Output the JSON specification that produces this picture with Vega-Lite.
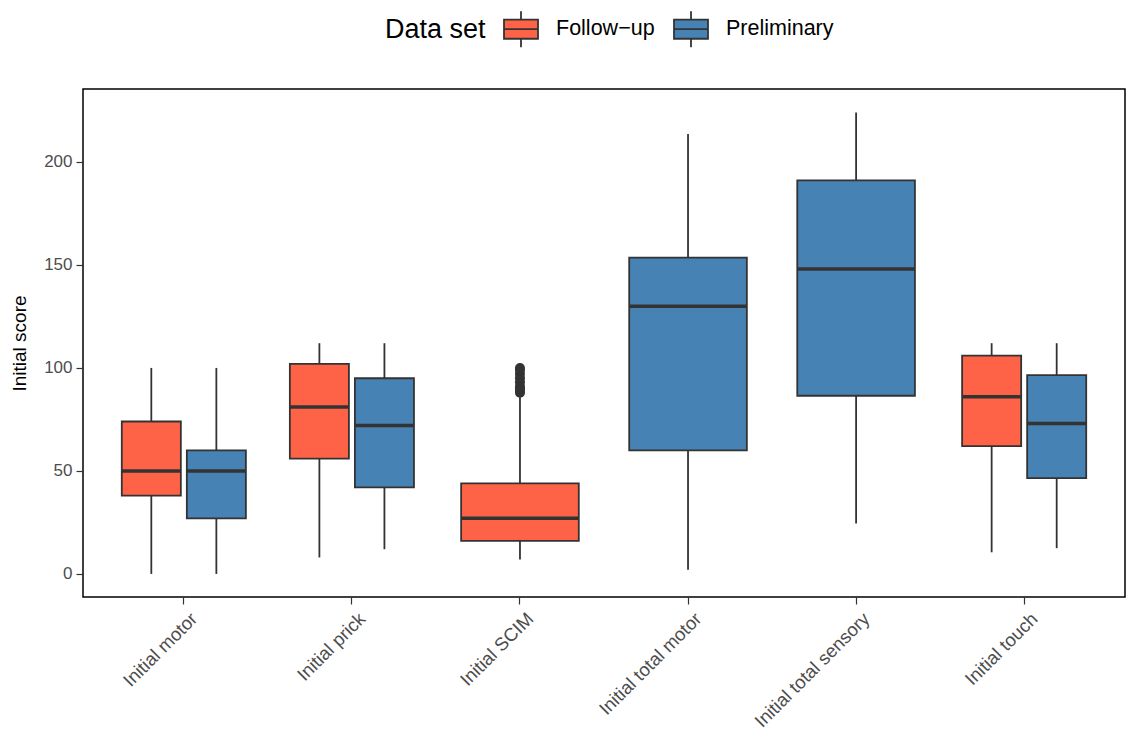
{
  "$schema": "https://vega.github.io/schema/vega-lite/v6.json",
  "width": 1042,
  "height": 508,
  "autosize": {"type": "none"},
  "padding": {"left": 83, "top": 89, "right": 2, "bottom": 138},
  "background": "white",
  "datasets": {
    "boxes": [
      {"category": "Initial motor", "set": "Follow-up", "lo": 0, "q1": 38, "med": 50, "q3": 74, "hi": 100},
      {"category": "Initial motor", "set": "Preliminary", "lo": 0, "q1": 27, "med": 50, "q3": 60, "hi": 100},
      {"category": "Initial prick", "set": "Follow-up", "lo": 8, "q1": 56, "med": 81, "q3": 102, "hi": 112},
      {"category": "Initial prick", "set": "Preliminary", "lo": 12, "q1": 42, "med": 72, "q3": 95, "hi": 112},
      {"category": "Initial SCIM", "set": "Follow-up", "lo": 7, "q1": 16, "med": 27, "q3": 44, "hi": 86},
      {"category": "Initial total motor", "set": "Preliminary", "lo": 2, "q1": 60, "med": 130, "q3": 153.5, "hi": 213.5},
      {"category": "Initial total sensory", "set": "Preliminary", "lo": 24.5, "q1": 86.5, "med": 148, "q3": 191, "hi": 224},
      {"category": "Initial touch", "set": "Follow-up", "lo": 10.5, "q1": 62, "med": 86, "q3": 106, "hi": 112},
      {"category": "Initial touch", "set": "Preliminary", "lo": 12.5, "q1": 46.5, "med": 73, "q3": 96.5, "hi": 112}
    ],
    "outliers": [
      {"category": "Initial SCIM", "set": "Follow-up", "value": 88},
      {"category": "Initial SCIM", "set": "Follow-up", "value": 89},
      {"category": "Initial SCIM", "set": "Follow-up", "value": 90},
      {"category": "Initial SCIM", "set": "Follow-up", "value": 91},
      {"category": "Initial SCIM", "set": "Follow-up", "value": 93},
      {"category": "Initial SCIM", "set": "Follow-up", "value": 95},
      {"category": "Initial SCIM", "set": "Follow-up", "value": 97},
      {"category": "Initial SCIM", "set": "Follow-up", "value": 99},
      {"category": "Initial SCIM", "set": "Follow-up", "value": 100}
    ]
  },
  "config": {
    "font": "Liberation Sans",
    "view": {"stroke": "black", "strokeWidth": 1.5},
    "axis": {
      "grid": false,
      "domain": false,
      "tickColor": "#333333",
      "tickSize": 7,
      "tickWidth": 1.2,
      "labelColor": "#4D4D4D",
      "labelFontSize": 17,
      "titleColor": "black",
      "titleFontSize": 19,
      "titleFontWeight": "normal"
    },
    "legend": {
      "orient": "none",
      "legendX": 302,
      "legendY": -79,
      "direction": "horizontal",
      "titleOrient": "left",
      "titleFontSize": 27,
      "titleFontWeight": "normal",
      "titleColor": "black",
      "titleBaseline": "middle",
      "titlePadding": 16,
      "labelFontSize": 21.5,
      "labelColor": "black",
      "labelOffset": 16,
      "columnPadding": 15,
      "symbolType": "M-0.944,-0.53H0.944V0.53H-0.944Z M-0.944,0H0.944 M0,-0.53V-1 M0,0.53V1",
      "symbolSize": 1296,
      "symbolStrokeColor": "#333333",
      "symbolStrokeWidth": 1.8,
      "symbolOpacity": 1
    }
  },
  "encoding": {
    "x": {
      "field": "category",
      "type": "nominal",
      "sort": ["Initial motor", "Initial prick", "Initial SCIM", "Initial total motor", "Initial total sensory", "Initial touch"],
      "scale": {"paddingInner": 0, "paddingOuter": 0.1},
      "axis": {"title": null, "labelAngle": -45, "labelAlign": "right", "labelBaseline": "top", "labelPadding": 5, "labelOffset": 4, "labelFontSize": 18.5}
    }
  },
  "layer": [
    {
      "data": {"name": "boxes"},
      "transform": [{"filter": "datum.category != 'Initial SCIM' && datum.category != 'Initial total motor' && datum.category != 'Initial total sensory'"}],
      "encoding": {
        "xOffset": {"field": "set", "type": "nominal", "scale": {"domain": ["Follow-up", "Preliminary"], "paddingInner": 0.092, "paddingOuter": 0.338}}
      },
      "layer": [
        {
          "mark": {"type": "rule", "color": "#333333", "strokeWidth": 1.8},
          "encoding": {
            "y": {"field": "lo", "type": "quantitative", "scale": {"domain": [-11.2, 235.4], "nice": false, "zero": false}, "axis": {"title": "Initial score", "values": [0, 50, 100, 150, 200], "labelPadding": 4, "titlePadding": 14}},
            "y2": {"field": "hi"}
          }
        },
        {
          "mark": {"type": "bar", "stroke": "#333333", "strokeWidth": 1.8, "opacity": 1},
          "encoding": {
            "y": {"field": "q1", "type": "quantitative", "scale": {"domain": [-11.2, 235.4], "nice": false, "zero": false}},
            "y2": {"field": "q3"},
            "color": {"field": "set", "type": "nominal", "scale": {"domain": ["Follow-up", "Preliminary"], "range": ["#FF6347", "#4682B4"]}, "legend": {"title": "Data set", "labelExpr": "replace(datum.label, '-', '−')"}}
          }
        },
        {
          "mark": {"type": "tick", "color": "#333333", "thickness": 3.5, "size": 59, "opacity": 1},
          "encoding": {
            "y": {"field": "med", "type": "quantitative", "scale": {"domain": [-11.2, 235.4], "nice": false, "zero": false}}
          }
        }
      ]
    },
    {
      "data": {"name": "boxes"},
      "transform": [{"filter": "datum.category == 'Initial SCIM' || datum.category == 'Initial total motor' || datum.category == 'Initial total sensory'"}],
      "layer": [
        {
          "mark": {"type": "rule", "color": "#333333", "strokeWidth": 1.8},
          "encoding": {
            "y": {"field": "lo", "type": "quantitative", "scale": {"domain": [-11.2, 235.4], "nice": false, "zero": false}},
            "y2": {"field": "hi"}
          }
        },
        {
          "mark": {"type": "bar", "stroke": "#333333", "strokeWidth": 1.8, "opacity": 1, "width": {"band": 0.7}},
          "encoding": {
            "y": {"field": "q1", "type": "quantitative", "scale": {"domain": [-11.2, 235.4], "nice": false, "zero": false}},
            "y2": {"field": "q3"},
            "color": {"field": "set", "type": "nominal", "scale": {"domain": ["Follow-up", "Preliminary"], "range": ["#FF6347", "#4682B4"]}, "legend": {"title": "Data set", "labelExpr": "replace(datum.label, '-', '−')"}}
          }
        },
        {
          "mark": {"type": "tick", "color": "#333333", "thickness": 3.5, "size": 117, "opacity": 1},
          "encoding": {
            "y": {"field": "med", "type": "quantitative", "scale": {"domain": [-11.2, 235.4], "nice": false, "zero": false}}
          }
        }
      ]
    },
    {
      "data": {"name": "outliers"},
      "mark": {"type": "point", "filled": true, "color": "#333333", "size": 100, "opacity": 1},
      "encoding": {
        "y": {"field": "value", "type": "quantitative", "scale": {"domain": [-11.2, 235.4], "nice": false, "zero": false}}
      }
    }
  ],
  "resolve": {"scale": {"y": "shared", "color": "shared"}}
}
